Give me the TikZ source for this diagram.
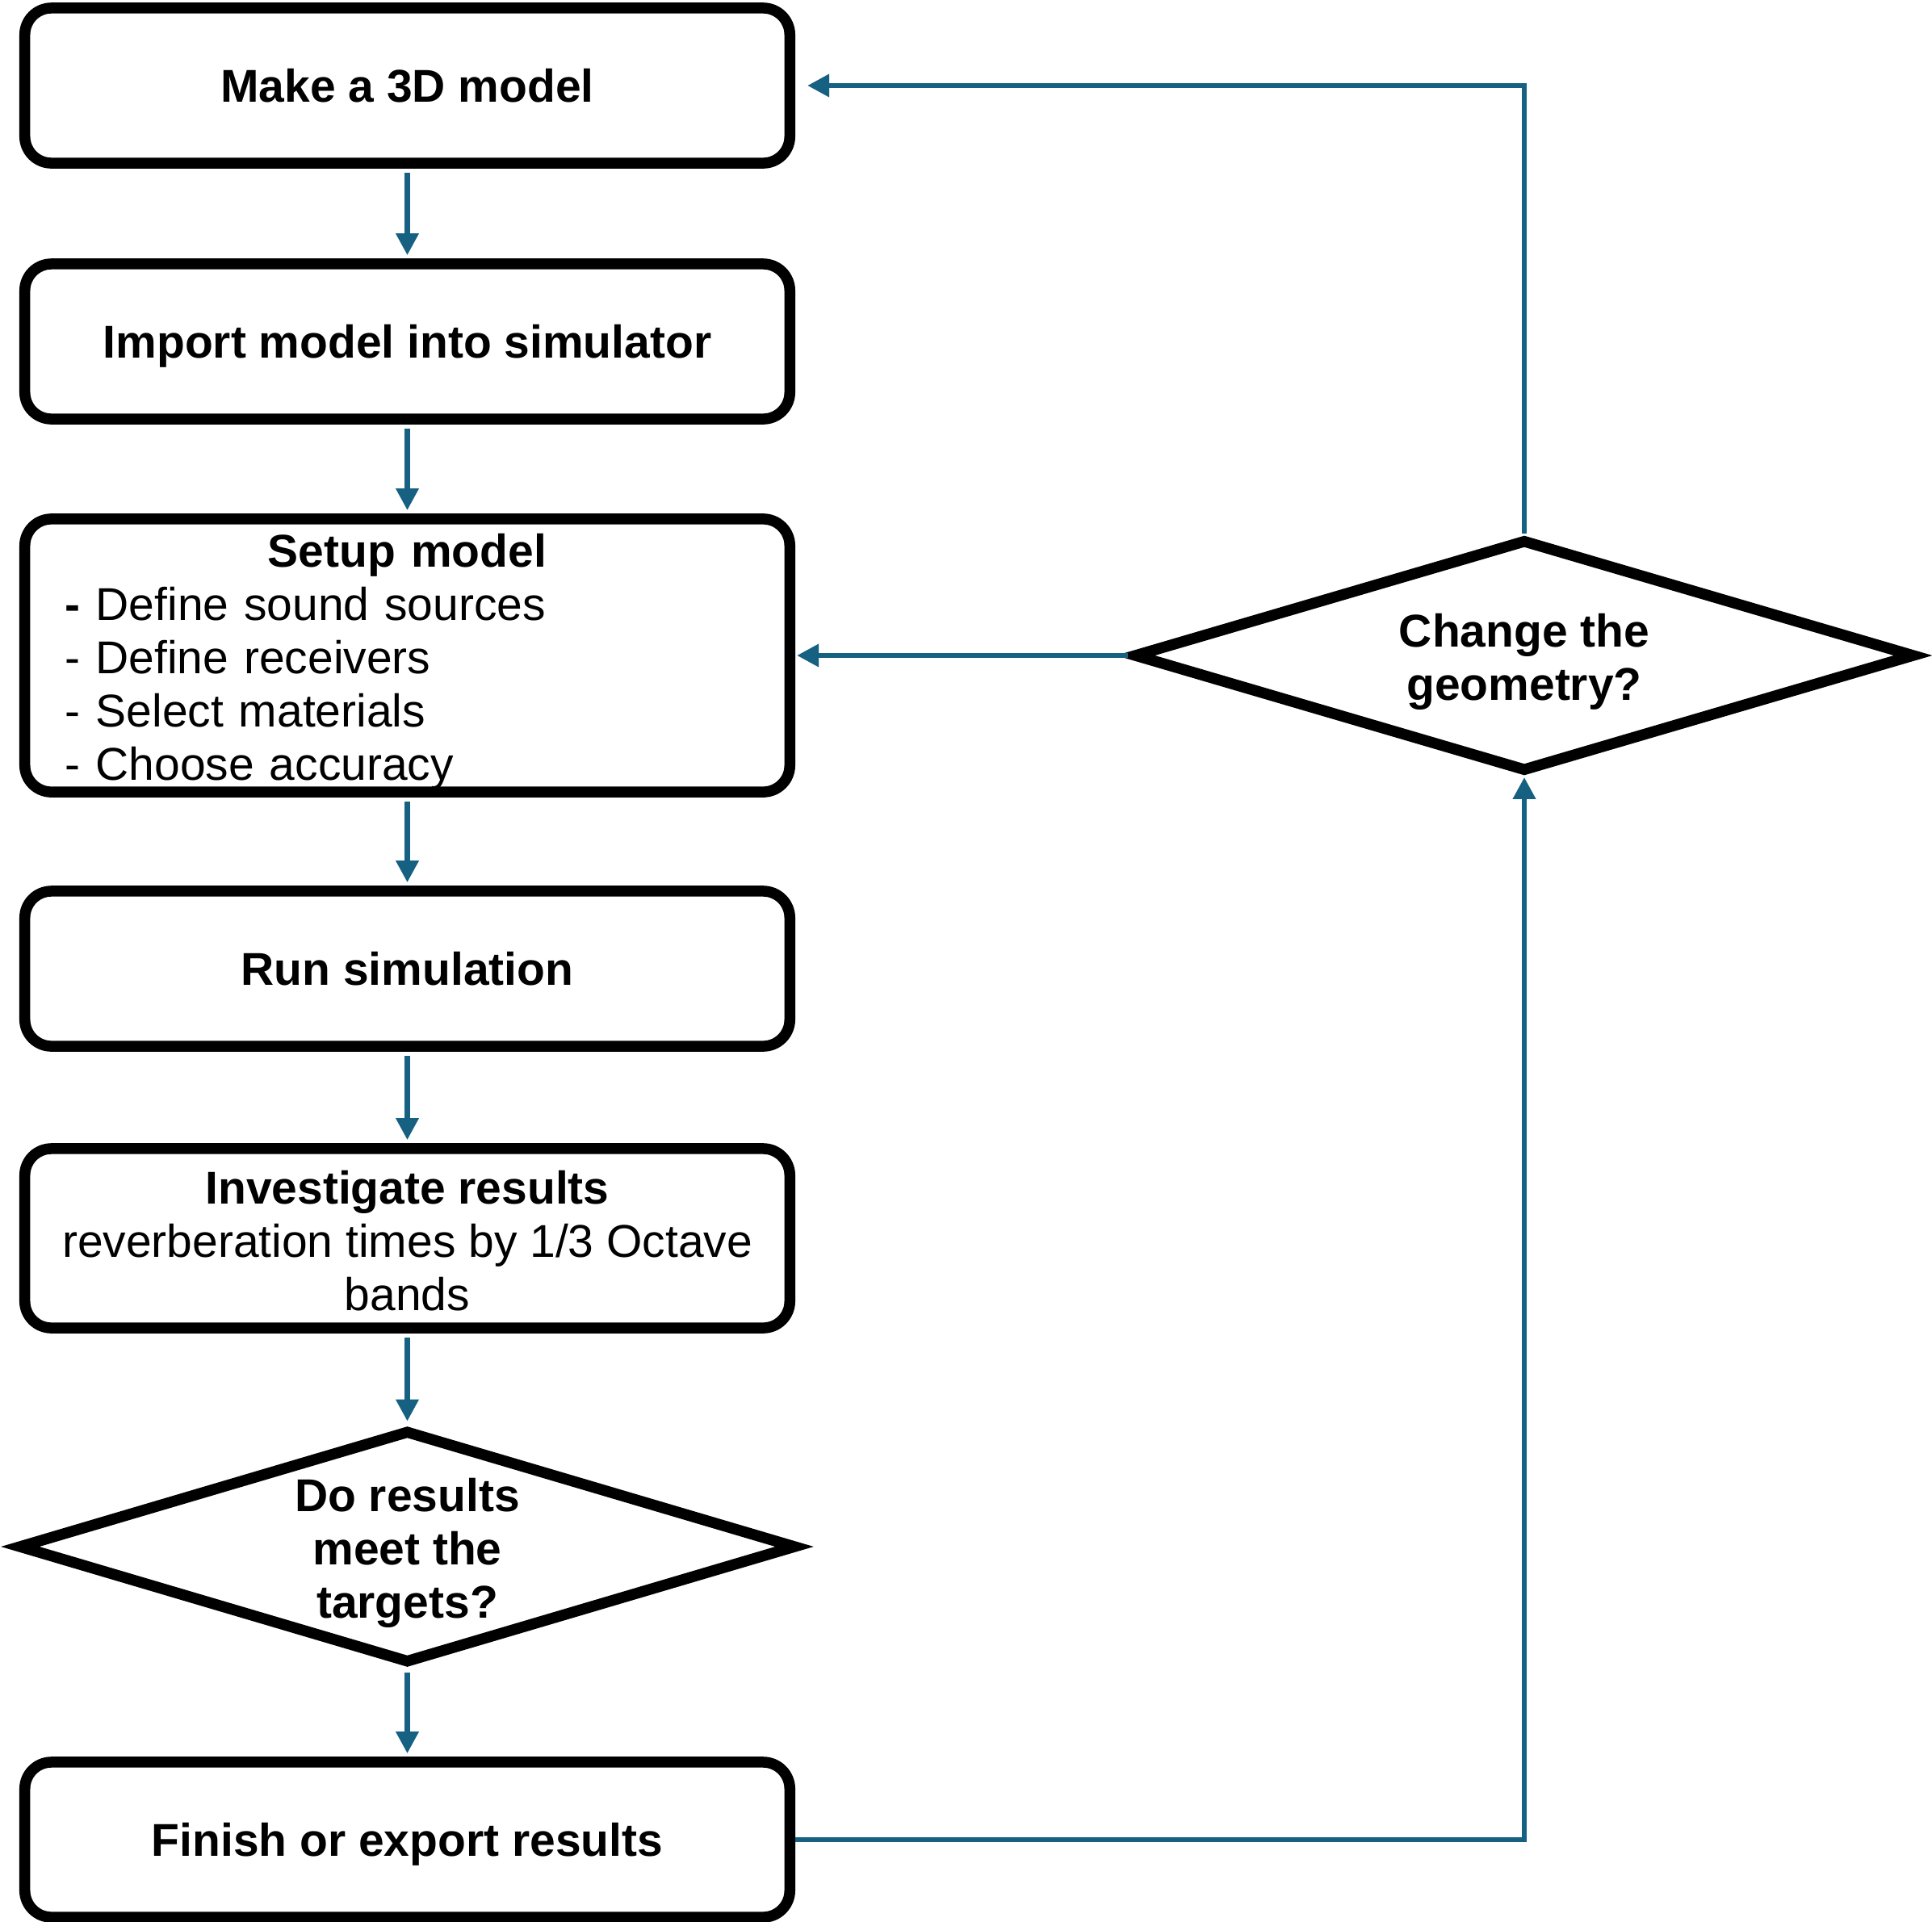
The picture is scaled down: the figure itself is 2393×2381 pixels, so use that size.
\documentclass[tikz,border=0pt]{standalone}
\usepackage{fontspec}
\setmainfont{Liberation Sans}
\usetikzlibrary{arrows.meta,shapes.geometric}
\definecolor{arrowblue}{RGB}{22,97,130}
\newcommand\toppad[1]{\rule{0pt}{#1}}
\begin{document}
\begin{tikzpicture}[x=0.01cm,y=-0.01cm,
  txt/.style={font=\fontsize{16.2pt}{18.8pt}\selectfont},
  box/.style={txt,draw=black,line width=0.135cm,rounded corners=0.33cm,
    minimum width=9.47cm,minimum height=1.92cm,inner sep=0pt,align=center},
  onebox/.style={box,text depth=0pt},
  decision/.style={txt,draw=black,line width=0.135cm,shape=diamond,aspect=3.37,
    minimum width=9.64cm,minimum height=2.89cm,inner sep=0pt,align=center},
  arr/.style={draw=arrowblue,line width=0.065cm,
    -{Triangle[length=0.27cm,width=0.27cm]}},
  down/.style={arr,shorten <=0.05cm,shorten >=0.04cm}
]
\useasboundingbox (0,0) rectangle (2393,2381);
\fill[white] (0,0) rectangle (2393,2381);

\node[onebox] (b1) at (504.5,106) {\bfseries Make a 3D model};
\node[onebox] (b2) at (504.5,423) {\bfseries Import model into simulator};
\node[box,minimum height=3.38cm,text width=8.47cm,align=left] (b3) at (504.5,812)
  {\makebox[\linewidth][c]{\toppad{16pt}\bfseries Setup model}\\
   \textbf{-} Define sound sources\\
   - Define receivers\\
   - Select materials\\
   - Choose accuracy};
\node[onebox] (b4) at (504.5,1200) {\bfseries Run simulation};
\node[box,minimum height=2.22cm] (b5) at (504.5,1534)
  {\toppad{13.3pt}\textbf{Investigate results}\\reverberation times by 1/3 Octave\\bands};
\node[decision] (d1) at (504.5,1916) {\toppad{16pt}\bfseries Do results\\\bfseries meet the\\\bfseries targets?};
\node[onebox] (b6) at (504.5,2279) {\bfseries Finish or export results};
\node[decision,minimum width=9.68cm,minimum height=2.88cm] (d2) at (1888,812)
  {\toppad{16pt}\bfseries Change the\\\bfseries geometry?};

\draw[down] (b1) -- (b2);
\draw[down] (b2) -- (b3);
\draw[down] (b3) -- (b4);
\draw[down] (b4) -- (b5);
\draw[down] (b5) -- (d1);
\draw[down] (d1) -- (b6);

\draw[arr,shorten >=0.15cm] (d2.north) |- (b1.east);
\draw[arr,shorten >=0.02cm] (d2.west) -- (b3.east);
\draw[arr] (b6.east) -| (d2.south);
\end{tikzpicture}
\end{document}
